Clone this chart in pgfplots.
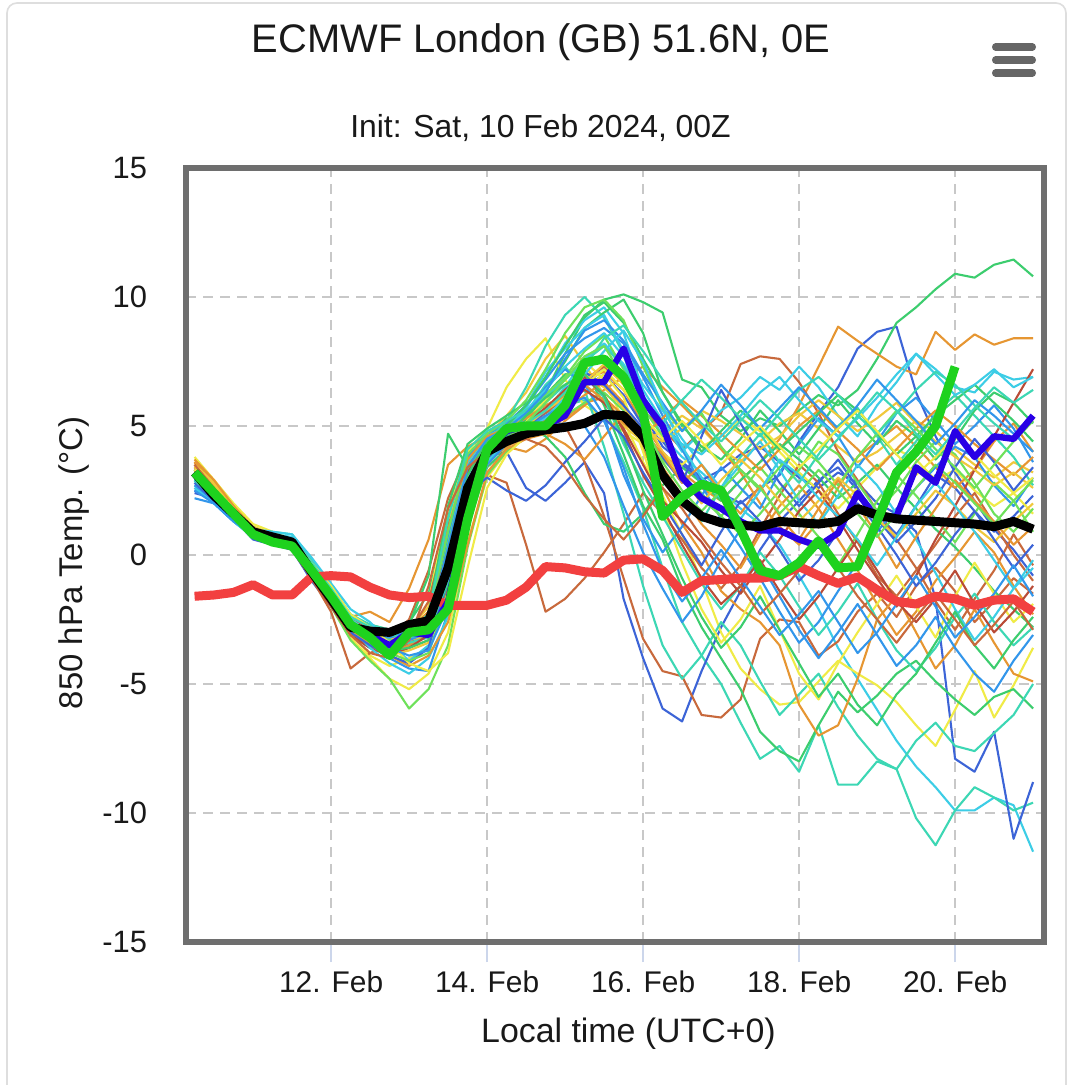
\documentclass[border=0pt]{standalone}
\usepackage{pgfplots}
\pgfplotsset{compat=1.18}
\usepackage{pgfplotstable}
\usepackage{fontspec}
\setmainfont{Liberation Sans}

\definecolor{mblue}{RGB}{60,100,215}
\definecolor{mdodger}{RGB}{50,150,235}
\definecolor{mcyan}{RGB}{60,205,230}
\definecolor{mturq}{RGB}{60,215,180}
\definecolor{mgreen}{RGB}{60,205,110}
\definecolor{mlgreen}{RGB}{110,225,90}
\definecolor{myellow}{RGB}{240,235,70}
\definecolor{mgold}{RGB}{240,200,60}
\definecolor{morange}{RGB}{230,150,50}
\definecolor{mbrown}{RGB}{200,105,60}
\definecolor{mred}{RGB}{185,75,55}
\definecolor{thickred}{RGB}{242,64,64}
\definecolor{thickgreen}{RGB}{30,210,30}
\definecolor{thickblue}{RGB}{40,0,230}
\definecolor{framegray}{RGB}{110,110,110}
\definecolor{gridgray}{RGB}{200,200,200}
\definecolor{tickcol}{RGB}{204,214,235}
\definecolor{txt}{RGB}{25,25,25}
\definecolor{cardgray}{RGB}{222,222,222}
\definecolor{menugray}{RGB}{102,102,102}

% one row per series, one column per 6-hour step (days since 10 Feb 00Z)
\pgfplotstableread{
name c0 c1 c2 c3 c4 c5 c6 c7 c8 c9 c10 c11 c12 c13 c14 c15 c16 c17 c18 c19 c20 c21 c22 c23 c24 c25 c26 c27 c28 c29 c30 c31 c32 c33 c34 c35 c36 c37 c38 c39 c40 c41 c42 c43
t 0.25 0.5 0.75 1 1.25 1.5 1.75 2 2.25 2.5 2.75 3 3.25 3.5 3.75 4 4.25 4.5 4.75 5 5.25 5.5 5.75 6 6.25 6.5 6.75 7 7.25 7.5 7.75 8 8.25 8.5 8.75 9 9.25 9.5 9.75 10 10.25 10.5 10.75 11
m1 3.3 2.5 1.7 1.0 0.8 0.6 -0.4 -1.3 -2.4 -2.7 -2.9 -2.6 -1.5 1.5 3.8 4.4 4.6 5.2 6.3 7.8 9.2 9.9 10.1 9.8 9.4 6.8 6.5 5.4 4.8 5.3 5.0 5.6 6.2 5.8 6.4 7.6 9.0 9.6 10.3 10.9 10.75 11.25 11.45 10.8
m2 3.6 2.7 1.8 1.0 0.6 0.3 -0.9 -1.9 -2.9 -3.3 -3.4 -3.0 -2.2 0.8 3.5 4.4 4.8 5.1 5.6 6.2 6.8 7.1 6.4 5.1 4.0 3.2 2.6 2.1 2.9 3.6 4.5 5.8 7.3 8.85 8.3 7.8 7.3 7.0 8.65 7.95 8.55 8.15 8.4 8.4
m3 3.0 2.3 1.5 0.8 0.6 0.4 -0.7 -1.8 -2.9 -3.4 -3.6 -3.3 -2.8 -0.5 2.9 4.2 4.5 4.8 5.3 6.0 6.6 7.2 6.9 5.5 4.2 3.6 3.0 2.4 2.0 2.6 3.1 4.4 5.5 6.5 8.0 8.65 8.85 6.3 4.6 3.2 2.1 1.0 0.2 -0.8
m4 2.8 2.2 1.5 0.9 0.8 0.6 -0.3 -1.5 -2.6 -3.0 -3.2 -3.0 -2.7 -0.9 2.2 3.8 4.3 4.9 5.6 6.5 7.6 8.2 7.4 6.0 4.6 3.8 3.2 2.5 1.8 1.2 0.4 -0.8 -2.1 -3.6 -4.8 -6.0 -7.2 -8.2 -9.0 -9.9 -9.9 -9.4 -9.7 -11.5
m5 3.1 2.3 1.6 0.8 0.6 0.4 -0.8 -1.9 -3.0 -3.6 -3.9 -3.5 -3.1 -1.6 1.8 3.9 4.6 5.2 5.5 5.8 6.0 5.2 3.6 1.8 -0.5 -2.6 -3.9 -5.0 -6.5 -7.9 -7.4 -8.4 -6.6 -8.9 -8.9 -8.0 -8.3 -10.2 -11.25 -9.9 -9.0 -9.4 -9.9 -9.6
m6 2.4 2.2 1.4 0.7 0.5 0.3 -0.8 -1.8 -2.8 -3.3 -3.5 -3.2 -2.6 0.2 3.3 4.3 4.5 4.7 5.1 5.8 6.5 7.0 6.2 5.0 4.4 3.5 2.9 3.3 3.9 4.2 3.6 3.0 2.6 3.2 2.8 2.0 1.6 0.9 -1.7 -7.9 -8.4 -6.85 -11.0 -8.8
m7 3.0 2.2 1.4 0.6 0.4 0.2 -1.0 -2.0 -3.1 -3.6 -3.8 -3.4 -2.9 -0.8 2.5 3.8 4.0 2.6 2.1 2.8 3.6 2.4 -1.7 -4.0 -5.95 -6.45 -4.5 -2.8 -1.4 0.2 1.3 2.1 2.9 3.4 2.5 1.6 0.8 1.9 3.1 2.6 1.7 0.9 1.5 2.3
m8 3.5 2.6 1.7 0.9 0.6 0.3 -0.6 -1.7 -2.8 -3.4 -3.7 -3.4 -2.7 0.5 3.2 4.0 4.3 4.9 5.4 5.0 3.6 1.5 -0.9 -3.25 -4.5 -4.7 -6.2 -6.3 -5.6 -3.25 -2.5 -2.6 -3.9 -3.35 -2.2 -1.5 -2.4 -1.2 -0.5 -1.4 -2.6 -1.8 -0.9 -1.5
m9 3.4 2.7 1.9 1.1 0.8 0.5 -0.7 -1.8 -3.0 -3.9 -4.3 -4.0 -3.6 -2.0 1.0 3.5 4.4 5.2 6.0 6.9 7.5 6.8 5.2 3.6 2.3 0.8 -1.0 -3.0 -4.4 -5.2 -5.8 -5.7 -4.9 -4.1 -4.6 -5.05 -5.7 -6.6 -7.4 -6.0 -4.5 -6.3 -5.05 -3.6
m10 3.7 2.9 2.0 1.2 0.9 0.6 -0.5 -1.5 -2.6 -3.2 -3.5 -3.1 -1.8 1.8 4.0 4.9 6.5 7.6 8.4 6.8 5.8 5.3 4.8 4.3 3.9 3.5 4.2 4.6 5.3 4.8 4.0 3.2 2.5 1.8 2.6 3.4 4.1 3.7 2.9 3.3 2.5 1.9 2.4 1.6
m11 3.2 2.5 1.6 0.8 0.6 0.5 -0.5 -1.4 -2.5 -3.1 -3.3 -2.9 -2.0 1.2 3.6 4.6 5.4 6.3 7.6 8.5 7.4 6.2 5.0 4.4 4.8 5.4 4.9 4.1 3.6 4.4 5.1 5.5 4.9 4.2 3.6 4.0 4.6 5.2 4.8 4.1 3.5 3.0 3.6 3.2
m12 3.3 2.4 1.4 0.7 0.5 0.2 -0.9 -2.2 -4.4 -3.8 -3.5 -3.0 -1.8 1.2 2.6 3.1 2.8 0.4 -2.2 -1.7 -0.9 0.1 1.2 2.4 1.6 0.6 -0.5 -1.3 -0.4 1.0 2.3 3.5 2.8 1.6 0.5 -0.8 -1.6 -0.6 0.4 1.5 2.4 1.2 0.0 -1.0
m13 3.4 2.6 1.7 1.0 0.7 0.4 -0.6 -1.7 -2.7 -3.0 -3.2 -2.5 -0.6 2.2 3.9 4.5 4.8 5.0 5.5 6.1 6.8 7.3 6.7 5.6 4.9 4.1 4.8 5.5 7.4 7.7 7.6 6.7 5.5 4.0 2.9 1.7 0.6 -0.5 -1.8 -2.9 -1.7 -0.6 0.8 -0.4
m14 3.6 2.8 1.7 0.8 0.6 0.2 -0.8 -1.6 -2.4 -2.2 -2.6 -1.3 0.6 3.5 4.2 4.6 4.2 4.0 4.5 5.2 5.8 6.4 6.9 7.3 6.5 5.8 5.0 4.1 3.2 2.0 1.1 0.4 1.3 2.6 3.8 4.4 5.0 4.2 3.4 2.6 3.3 4.4 5.1 4.0
m15 3.0 2.3 1.5 0.8 0.6 0.4 -0.5 -1.5 -2.5 -2.9 -3.0 -2.7 -0.8 4.7 3.4 4.5 5.3 5.0 4.6 3.8 2.4 1.2 0.9 1.6 2.7 3.4 2.8 2.1 2.9 3.6 4.3 3.7 3.0 2.2 2.8 3.5 2.6 1.8 1.0 0.3 -0.5 -1.4 -2.1 -2.8
m16 3.1 2.4 1.6 0.9 0.7 0.5 -0.6 -1.6 -2.7 -3.1 -3.3 -3.0 -2.9 -1.9 1.1 3.4 4.1 5.3 6.2 7.0 7.2 5.8 3.9 1.9 0.6 -1.3 -2.8 -4.0 -5.2 -6.85 -7.6 -8.0 -6.6 -5.3 -6.1 -5.45 -4.6 -4.1 -4.9 -5.6 -6.2 -5.5 -5.2 -5.95
m17 2.9 2.2 1.5 0.8 0.6 0.4 -0.7 -1.7 -2.8 -3.2 -3.4 -3.1 -2.8 -1.0 2.4 4.0 4.6 5.5 6.6 7.3 6.4 4.2 1.6 -1.2 -3.5 -4.8 -3.9 -2.6 -3.5 -4.9 -6.2 -5.4 -4.6 -5.9 -7.0 -7.9 -8.3 -7.2 -6.5 -7.4 -7.6 -6.9 -6.2 -5.0
m18 2.7 2.1 1.4 0.8 0.7 0.6 -0.3 -1.3 -2.4 -2.9 -3.1 -2.9 -2.4 0.6 3.6 4.6 5.0 5.7 6.9 8.2 9.1 9.6 8.6 6.4 5.2 4.0 4.8 5.6 6.1 6.9 6.4 7.3 6.5 5.4 4.6 5.8 6.7 7.8 7.2 6.5 6.3 7.1 6.8 6.9
m19 2.6 2.0 1.3 0.7 0.6 0.4 -0.6 -1.6 -2.6 -2.9 -3.0 -2.9 -2.4 0.8 3.8 4.7 5.1 5.8 6.8 7.8 8.4 8.8 8.2 6.9 5.4 4.1 2.7 1.4 0.3 -0.9 -2.2 -3.4 -2.6 -1.4 -0.3 0.9 1.8 2.6 3.4 4.2 3.8 2.7 1.9 3.0
m20 3.2 2.4 1.7 1.0 0.9 0.8 -0.2 -1.2 -2.3 -2.7 -2.9 -2.7 -2.5 0.0 3.1 4.4 5.2 6.5 8.1 9.3 10.0 9.2 7.8 5.2 3.4 2.1 1.3 2.6 3.8 4.7 3.6 2.8 3.9 5.0 5.7 4.6 3.5 4.4 5.5 6.2 5.4 4.6 3.8 2.7
m21 3.0 2.3 1.5 0.9 0.7 0.6 -0.4 -1.5 -2.6 -3.0 -3.1 -2.8 -2.3 1.9 4.3 4.9 5.4 5.9 6.4 7.5 8.8 9.4 9.9 8.6 6.3 5.0 4.2 3.7 4.5 5.6 4.8 3.9 4.9 6.0 5.1 4.3 5.2 4.6 3.7 4.5 5.6 6.3 5.9 5.1
m22 3.3 2.5 1.7 0.9 0.7 0.5 -0.5 -1.6 -2.7 -3.1 -3.3 -3.0 -2.6 0.4 3.3 4.3 4.9 5.6 6.2 6.9 7.9 8.5 7.2 5.7 4.6 3.2 2.2 1.5 2.4 3.4 2.5 1.6 0.7 -0.4 0.8 2.1 3.1 2.3 1.4 0.5 1.6 2.8 2.1 0.9
m23 3.5 2.7 1.8 1.0 0.7 0.4 -0.6 -1.7 -2.8 -3.3 -3.6 -3.6 -3.3 -1.5 1.7 3.6 4.2 4.6 4.9 5.3 5.9 6.1 5.4 4.6 3.4 2.3 1.2 0.4 -0.5 0.8 1.9 2.7 1.8 0.6 -0.6 -1.9 -3.1 -2.2 -1.0 -0.1 0.9 0.1 -1.2 -2.3
m24 3.4 2.6 1.7 0.9 0.6 0.3 -0.8 -1.9 -3.0 -3.5 -3.8 -3.5 -3.0 -0.4 2.8 4.1 4.4 4.8 5.2 5.6 6.2 6.7 5.9 4.1 2.6 1.2 0.1 -1.4 -2.1 -2.6 -3.5 -5.8 -7.0 -6.6 -4.8 -2.5 -1.6 -3.0 -4.4 -3.5 -2.1 -3.4 -4.6 -4.9
m25 3.8 2.9 1.9 1.0 0.7 0.4 -0.7 -1.9 -3.2 -4.0 -4.8 -5.2 -4.6 -3.0 0.5 3.0 4.0 4.6 5.0 5.7 6.5 7.0 6.1 4.0 1.8 -0.3 -2.1 -3.4 -2.5 -1.2 -2.9 -4.6 -5.6 -4.2 -3.0 -1.9 -0.8 -2.0 -3.2 -1.6 -0.3 -1.5 -2.6 -1.9
m26 3.1 2.3 1.5 0.7 0.5 0.3 -0.8 -2.0 -3.3 -4.1 -4.8 -5.95 -5.2 -3.5 0.3 3.1 4.0 4.6 5.0 5.4 5.9 6.3 5.6 4.5 3.7 3.0 2.4 1.5 0.8 1.6 2.5 3.3 4.4 3.9 2.8 1.7 2.5 3.6 4.4 3.9 2.8 1.6 0.9 1.8
m27 2.2 2.0 1.3 0.7 0.5 0.3 -0.7 -1.8 -2.9 -3.5 -4.0 -4.4 -4.5 -2.2 1.5 3.6 4.4 5.4 6.5 7.2 6.6 5.4 3.1 1.4 0.1 1.1 2.3 3.4 2.6 1.8 3.2 4.3 5.3 4.6 3.4 4.4 5.5 6.1 5.2 4.3 5.0 5.8 4.9 3.6
m28 2.9 2.3 1.6 1.0 0.9 0.8 -0.1 -1.1 -2.1 -2.6 -3.4 -4.1 -3.5 -1.2 2.0 3.9 4.7 5.8 7.1 8.0 8.8 9.3 7.9 6.6 5.6 4.5 3.5 2.6 3.5 4.4 3.3 2.1 1.2 2.3 3.5 2.7 1.6 0.6 -0.7 -2.1 -3.3 -2.4 -1.3 -0.2
m29 3.2 2.4 1.6 0.9 0.7 0.5 -0.5 -1.5 -2.5 -2.9 -3.0 -2.8 -2.4 0.2 3.2 4.3 4.6 4.9 5.3 5.9 6.4 5.9 4.9 3.5 2.1 1.3 0.5 -0.6 -1.5 -0.4 0.6 1.7 2.5 1.4 0.2 -0.9 -2.0 -0.8 0.6 1.9 3.3 4.6 5.9 7.2
m30 3.6 2.8 1.8 1.0 0.8 0.5 -0.5 -1.6 -2.7 -3.1 -3.2 -2.9 -2.2 1.0 3.7 4.6 4.9 5.3 5.8 6.2 6.6 6.0 5.1 4.6 5.3 6.0 5.4 4.7 4.0 3.3 4.1 5.0 5.6 4.8 4.1 3.3 4.1 4.9 5.6 5.0 4.3 3.7 3.1 3.8
m31 3.5 2.8 1.9 1.1 0.8 0.6 -0.4 -1.4 -2.5 -3.0 -3.2 -3.3 -3.1 -1.4 2.1 3.9 4.4 5.0 5.7 6.4 7.0 6.5 5.7 4.9 4.4 4.9 5.6 5.2 4.7 4.1 4.6 5.4 6.0 5.4 4.8 5.3 5.9 5.1 4.4 3.8 3.3 2.7 3.2 2.6
m32 3.0 2.3 1.5 0.8 0.6 0.4 -0.6 -1.7 -2.8 -3.3 -3.6 -3.4 -3.2 -1.6 1.6 3.6 4.3 5.0 5.9 6.6 7.0 6.1 4.3 2.8 1.5 0.2 -1.1 -2.1 -1.2 0.1 -0.8 -2.0 -3.1 -2.2 -1.1 -2.5 -3.7 -4.5 -3.6 -2.4 -1.5 -2.6 -3.5 -2.8
m33 3.2 2.4 1.6 0.9 0.7 0.4 -0.7 -1.7 -2.8 -3.2 -3.4 -3.2 -2.9 -0.2 3.1 4.4 5.0 5.8 6.9 8.1 9.3 9.8 9.0 7.6 6.3 5.1 4.0 4.8 5.6 4.9 4.1 4.8 5.5 6.2 5.6 4.7 3.9 4.6 5.4 6.0 6.6 5.9 5.2 4.4
m34 2.8 2.2 1.5 0.9 0.8 0.7 -0.3 -1.4 -2.5 -3.0 -3.2 -3.0 -2.7 -0.6 2.7 4.3 4.8 5.6 6.4 7.3 8.0 8.6 7.7 6.2 5.0 4.3 3.9 4.6 5.4 6.3 6.9 6.0 5.2 4.6 5.3 6.1 7.0 7.8 7.0 6.2 6.6 7.2 6.5 6.9
m35 2.5 2.1 1.4 0.8 0.6 0.4 -0.6 -1.6 -2.6 -3.1 -3.4 -3.2 -2.9 -0.6 2.6 4.0 4.4 4.8 5.6 6.4 7.1 6.6 5.8 4.9 3.8 2.8 4.6 6.4 5.1 3.9 2.8 1.9 2.8 3.7 2.6 1.4 0.5 1.3 2.2 3.4 4.5 3.6 2.5 3.4
m36 3.3 2.5 1.6 0.8 0.5 0.2 -0.9 -2.0 -3.1 -3.6 -3.9 -3.6 -3.1 -1.2 2.2 3.9 4.5 5.1 5.7 6.4 6.9 6.2 4.8 3.1 1.8 0.4 -0.9 -1.9 -1.2 -0.2 -1.4 -2.5 -1.6 -0.5 0.6 -0.6 -1.8 -2.6 -1.7 -0.6 -1.9 -3.0 -2.2 -1.2
m37 3.1 2.4 1.6 0.9 0.7 0.5 -0.5 -1.5 -2.6 -3.0 -3.2 -2.9 -2.4 0.9 3.9 4.7 5.2 6.0 7.2 8.6 9.6 9.9 9.1 7.3 5.7 4.8 5.5 4.2 3.3 2.5 3.4 4.2 3.6 2.7 3.8 4.7 5.6 4.9 4.1 3.4 2.6 3.5 4.4 5.2
m38 3.4 2.7 1.8 1.0 0.7 0.5 -0.6 -1.7 -2.9 -3.5 -3.9 -3.7 -3.4 -1.7 1.4 3.5 4.3 5.0 5.6 6.1 6.7 7.4 6.6 5.3 4.0 3.0 2.0 2.9 3.7 3.0 2.1 1.3 2.1 3.0 2.3 1.4 0.7 1.6 2.5 1.9 1.1 0.5 1.3 2.0
m39 2.7 2.1 1.4 0.8 0.6 0.4 -0.6 -1.6 -2.7 -3.2 -3.5 -3.3 -3.0 -0.5 2.9 4.2 4.6 4.8 5.0 5.1 5.0 3.8 1.9 0.1 -1.3 -2.6 -1.6 -0.2 1.0 -0.3 -1.6 -2.9 -4.0 -3.0 -1.9 -3.1 -4.3 -3.5 -2.4 -3.6 -4.6 -5.3 -4.1 -3.1
m40 3.0 2.3 1.5 0.8 0.6 0.4 -0.6 -1.6 -2.7 -3.1 -3.2 -2.9 -2.3 1.4 4.1 4.8 5.2 5.6 6.1 6.8 7.5 8.1 7.3 6.0 5.1 6.0 6.8 6.1 5.3 4.6 5.5 6.4 6.9 6.2 5.4 4.7 5.5 6.4 7.1 6.6 5.8 5.1 4.5 5.3
m41 2.9 2.3 1.5 0.8 0.6 0.4 -0.6 -1.6 -2.6 -3.0 -3.2 -3.0 -2.7 0.3 3.4 4.5 4.9 5.5 6.3 7.6 8.7 9.1 8.3 7.0 5.9 4.8 5.6 6.6 5.8 4.9 5.7 6.5 5.7 4.9 5.8 6.8 6.0 5.2 4.3 5.1 6.0 5.4 4.7 4.0
m42 2.6 2.0 1.3 0.7 0.6 0.5 -0.5 -1.6 -2.8 -3.6 -4.2 -4.6 -4.0 -2.4 1.2 3.6 4.4 4.9 5.3 6.1 7.0 7.9 8.7 7.5 5.8 4.2 3.0 2.2 1.4 2.5 3.7 3.1 2.2 1.5 0.6 -0.4 0.7 1.9 2.8 1.9 0.9 -0.2 -1.3 -0.5
m43 3.7 2.9 1.9 1.0 0.7 0.3 -0.8 -1.8 -2.9 -3.4 -3.9 -4.3 -3.9 -2.6 0.4 3.2 4.1 4.5 4.7 4.3 3.7 4.6 5.5 4.8 3.9 2.8 3.5 2.4 1.6 2.7 1.5 0.6 1.8 2.9 1.9 0.8 -0.5 0.7 1.8 2.9 2.1 1.3 0.4 1.1
m44 3.0 2.3 1.5 0.8 0.6 0.4 -0.6 -1.7 -2.8 -3.3 -3.7 -3.6 -3.3 -1.1 2.3 4.0 4.6 5.4 6.1 6.6 7.0 6.2 4.5 2.5 0.8 -0.9 -2.4 -3.6 -2.8 -1.6 -2.9 -4.2 -5.5 -4.6 -5.8 -6.6 -5.4 -4.6 -3.4 -2.2 -3.5 -4.4 -3.3 -2.4
m45 2.8 2.1 1.4 0.7 0.5 0.3 -0.7 -1.8 -3.0 -3.5 -3.9 -4.2 -3.6 -0.9 2.4 3.0 2.5 2.1 2.7 3.6 4.4 5.3 4.6 3.2 2.0 0.8 -0.4 0.9 2.1 1.3 0.2 -1.0 -0.2 0.9 2.0 1.1 0.0 -1.2 -0.3 0.8 1.7 0.6 -0.5 0.4
m46 3.3 2.6 1.8 1.0 0.8 0.6 -0.3 -1.2 -2.3 -2.8 -3.4 -4.2 -4.5 -3.8 -0.5 2.6 3.9 4.6 5.1 5.9 6.6 7.2 6.4 5.4 4.5 5.2 4.4 3.5 4.3 5.0 4.2 3.4 4.1 4.9 5.6 4.8 3.9 3.1 3.8 4.6 3.9 3.1 2.4 3.0
m47 2.9 2.2 1.5 0.9 0.7 0.6 -0.3 -1.3 -2.4 -2.8 -3.1 -3.2 -3.0 -1.0 2.5 4.2 4.7 5.1 5.6 6.3 7.3 8.4 8.9 7.9 6.8 5.9 5.1 4.4 5.2 6.0 5.3 4.5 3.7 4.5 5.4 6.3 5.6 4.7 3.9 4.8 5.7 6.5 5.9 6.4
m48 3.5 2.6 1.7 0.9 0.6 0.3 -0.8 -1.9 -3.1 -3.8 -4.0 -3.3 -1.2 1.8 3.4 4.0 4.3 4.5 4.2 3.4 2.3 1.4 0.6 1.5 2.6 1.8 0.7 -0.3 -1.2 -2.3 -1.5 -0.6 0.5 -0.5 -1.6 -2.5 -3.4 -2.4 -1.5 -2.5 -3.5 -2.7 -1.8 -2.9
m49 3.2 2.4 1.6 0.9 0.7 0.5 -0.5 -1.6 -2.7 -3.3 -3.8 -4.1 -3.8 -1.6 1.9 3.8 4.5 5.1 5.9 6.8 7.7 8.1 6.9 5.1 3.6 2.5 1.7 2.5 3.3 2.6 1.6 2.4 3.3 2.5 1.6 0.7 1.6 2.6 3.5 2.8 2.0 1.2 2.1 2.9
m50 2.5 2.0 1.3 0.8 0.6 0.5 -0.5 -1.5 -2.6 -3.1 -3.6 -3.9 -3.7 -2.0 1.3 3.5 4.3 4.9 5.4 5.8 6.1 5.2 3.4 1.2 -0.6 -1.8 -0.9 0.2 -0.9 -2.0 -3.1 -2.3 -1.4 -2.6 -3.8 -3.0 -1.9 -0.8 -2.0 -3.2 -2.4 -1.5 -0.4 -1.6
clim -1.6 -1.55 -1.45 -1.15 -1.55 -1.55 -0.85 -0.8 -0.85 -1.25 -1.55 -1.65 -1.6 -1.95 -1.95 -1.95 -1.75 -1.25 -0.45 -0.5 -0.65 -0.7 -0.2 -0.15 -0.6 -1.45 -1.0 -0.95 -0.9 -0.9 -0.8 -0.45 -0.8 -1.1 -0.85 -1.35 -1.8 -1.9 -1.6 -1.7 -1.95 -1.75 -1.7 -2.2
ctrl 3.2 2.35 1.6 0.85 0.6 0.4 -0.6 -1.65 -2.75 -3.1 -3.5 -3.0 -3.1 -1.8 1.8 4.0 4.8 5.0 5.0 5.4 6.7 6.7 8.0 6.0 5.0 3.0 2.2 1.8 1.3 0.95 0.95 0.6 0.35 0.85 2.4 1.4 1.5 3.4 2.8 4.8 3.8 4.6 4.5 5.4
mean 3.2 2.3 1.6 0.9 0.7 0.5 -0.65 -1.7 -2.8 -2.95 -3.0 -2.7 -2.55 -0.5 2.6 4.0 4.4 4.7 4.85 4.95 5.1 5.45 5.4 4.6 3.1 2.1 1.5 1.25 1.15 1.1 1.3 1.25 1.2 1.3 1.8 1.55 1.4 1.35 1.3 1.25 1.2 1.1 1.3 1.0
oper 3.2 2.4 1.6 0.8 0.5 0.35 -0.6 -1.6 -2.7 -3.2 -3.9 -3.0 -2.9 -2.1 1.4 4.1 4.9 5.0 5.0 5.8 7.45 7.6 6.9 5.5 1.5 2.25 2.75 2.5 1.0 -0.6 -0.8 -0.3 0.55 -0.5 -0.45 1.3 3.2 4.0 5.0 7.3 nan nan nan nan
}\rawdata
\pgfplotstabletranspose[colnames from=name]{\ens}{\rawdata}

\pgfplotsset{mem/.style={line width=1.05bp, line join=round}}

\begin{document}
\begin{tikzpicture}
\path[use as bounding box] (-93bp,-71.5bp) rectangle (447bp,471bp);
\fill[white] (-93bp,-71.5bp) rectangle (447bp,471bp);
\draw[cardgray, line width=0.8bp, rounded corners=5bp] (-89.5bp,-80bp) rectangle (440bp,469.5bp);

\begin{axis}[
  at={(0,0)}, anchor=south west,
  scale only axis, width=429bp, height=387bp,
  xmin=0.14, xmax=11.14, ymin=-15, ymax=15,
  xtick={2,4,6,8,10},
  xticklabels={12. Feb,14. Feb,16. Feb,18. Feb,20. Feb},
  ytick={-15,-10,-5,0,5,10,15},
  yticklabels={-15,-10,-5,0,5,10,15},
  xtick pos=lower, ytick pos=left,
  tick align=outside,
  major tick length=10bp,
  x tick style={draw=tickcol, line width=0.6bp},
  y tick style={draw=none},
  xticklabel style={font=\fontsize{15}{18}\selectfont, text=txt, yshift=-1bp},
  yticklabel style={font=\fontsize{15.5}{18}\selectfont, text=txt, xshift=-6bp},
  grid=major,
  major grid style={draw=gridgray, line width=1bp, dash pattern=on 5bp off 3.5bp},
  axis line style={draw=framegray, line width=2.6bp},
  no markers,
]
\addplot[mem, mblue] table[x=t,y=m3]{\ens};
\addplot[mem, mgreen] table[x=t,y=m1]{\ens};
\addplot[mem, morange] table[x=t,y=m2]{\ens};
\addplot[mem, mcyan] table[x=t,y=m4]{\ens};
\addplot[mem, mturq] table[x=t,y=m5]{\ens};
\addplot[mem, mblue] table[x=t,y=m6]{\ens};
\addplot[mem, mblue] table[x=t,y=m7]{\ens};
\addplot[mem, mbrown] table[x=t,y=m8]{\ens};
\addplot[mem, myellow] table[x=t,y=m9]{\ens};
\addplot[mem, myellow] table[x=t,y=m10]{\ens};
\addplot[mem, mgold] table[x=t,y=m11]{\ens};
\addplot[mem, mbrown] table[x=t,y=m12]{\ens};
\addplot[mem, mbrown] table[x=t,y=m13]{\ens};
\addplot[mem, morange] table[x=t,y=m14]{\ens};
\addplot[mem, mgreen] table[x=t,y=m15]{\ens};
\addplot[mem, mgreen] table[x=t,y=m16]{\ens};
\addplot[mem, mturq] table[x=t,y=m17]{\ens};
\addplot[mem, mcyan] table[x=t,y=m18]{\ens};
\addplot[mem, mdodger] table[x=t,y=m19]{\ens};
\addplot[mem, mturq] table[x=t,y=m20]{\ens};
\addplot[mem, mgreen] table[x=t,y=m21]{\ens};
\addplot[mem, mlgreen] table[x=t,y=m22]{\ens};
\addplot[mem, morange] table[x=t,y=m23]{\ens};
\addplot[mem, morange] table[x=t,y=m24]{\ens};
\addplot[mem, myellow] table[x=t,y=m25]{\ens};
\addplot[mem, mlgreen] table[x=t,y=m26]{\ens};
\addplot[mem, mdodger] table[x=t,y=m27]{\ens};
\addplot[mem, mcyan] table[x=t,y=m28]{\ens};
\addplot[mem, mred] table[x=t,y=m29]{\ens};
\addplot[mem, morange] table[x=t,y=m30]{\ens};
\addplot[mem, mgold] table[x=t,y=m31]{\ens};
\addplot[mem, mturq] table[x=t,y=m32]{\ens};
\addplot[mem, mgreen] table[x=t,y=m33]{\ens};
\addplot[mem, mcyan] table[x=t,y=m34]{\ens};
\addplot[mem, mblue] table[x=t,y=m35]{\ens};
\addplot[mem, mred] table[x=t,y=m36]{\ens};
\addplot[mem, mlgreen] table[x=t,y=m37]{\ens};
\addplot[mem, mgold] table[x=t,y=m38]{\ens};
\addplot[mem, mdodger] table[x=t,y=m39]{\ens};
\addplot[mem, mturq] table[x=t,y=m40]{\ens};
\addplot[mem, mdodger] table[x=t,y=m41]{\ens};
\addplot[mem, mcyan] table[x=t,y=m42]{\ens};
\addplot[mem, morange] table[x=t,y=m43]{\ens};
\addplot[mem, mgreen] table[x=t,y=m44]{\ens};
\addplot[mem, mblue] table[x=t,y=m45]{\ens};
\addplot[mem, myellow] table[x=t,y=m46]{\ens};
\addplot[mem, mturq] table[x=t,y=m47]{\ens};
\addplot[mem, mbrown] table[x=t,y=m48]{\ens};
\addplot[mem, mlgreen] table[x=t,y=m49]{\ens};
\addplot[mem, mdodger] table[x=t,y=m50]{\ens};
\addplot[thickred, line width=4.5bp, line join=round] table[x=t,y=clim]{\ens};
\addplot[thickblue, line width=3.2bp, line join=round] table[x=t,y=ctrl]{\ens};
\addplot[black, line width=4.5bp, line join=round] table[x=t,y=mean]{\ens};
\addplot[thickgreen, line width=4.5bp, line join=round] table[x=t,y=oper]{\ens};
\end{axis}

\node[anchor=base, text=txt, font=\fontsize{20}{24}\selectfont] at (177.5bp,444.5bp) {ECMWF London (GB) 51.6N, 0E};
\node[anchor=base, text=txt, font=\fontsize{16}{19}\selectfont] at (177.25bp,402bp) {Init: Sat, 10 Feb 2024, 00Z};
\node[anchor=base, text=txt, font=\fontsize{17}{20}\selectfont] at (221.25bp,-50bp) {Local time (UTC+0)};
\node[anchor=base, rotate=90, text=txt, font=\fontsize{16.5}{20}\selectfont] at (-51.5bp,189.5bp) {850 hPa Temp. (°C)};
\foreach \yy in {447.5,441,434.5}{
  \draw[menugray, line width=3.6bp, line cap=round] (404.8bp,\yy bp) -- (423.2bp,\yy bp);
}
\end{tikzpicture}
\end{document}
